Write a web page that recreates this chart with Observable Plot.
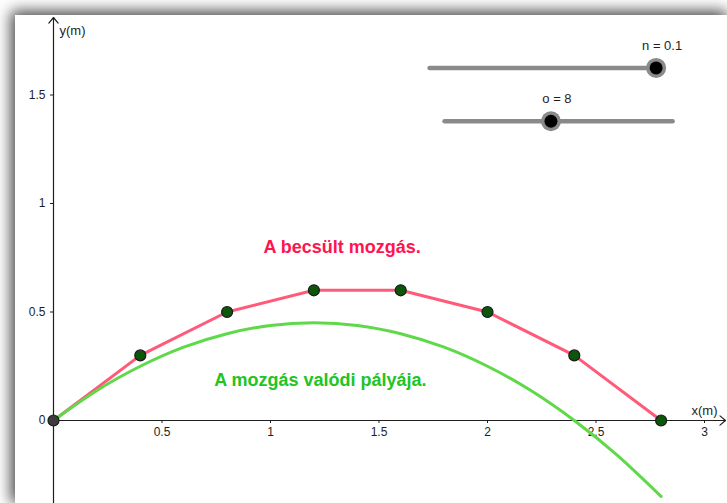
<!DOCTYPE html>
<html>
<head>
<meta charset="utf-8">
<script src="https://cdn.jsdelivr.net/npm/d3@7"></script>
<script src="https://cdn.jsdelivr.net/npm/@observablehq/plot@0.6"></script>
<style>
  html, body { margin: 0; padding: 0; background: #fff; }
  #window { position: relative; width: 727px; height: 503px; overflow: hidden; background: #fff; }
  #view { position: absolute; left: 15px; top: 15px; box-shadow: -2px -2px 14px 2px rgba(0,0,0,0.72); background: #fff; }
  #view svg { display: block; }
</style>
</head>
<body>
<div id="window"><div id="view"></div></div>
<script>
// Estimated motion: positions at each time step (m)
const stepX = [0, 0.4, 0.8, 1.2, 1.6, 2, 2.4, 2.8];
const stepY = [0, 0.3, 0.5, 0.6, 0.6, 0.5, 0.3, 0];

// Real trajectory of the motion (m)
const pathX = [0, 0.2, 0.4, 0.6, 0.8, 1.0, 1.2, 1.4, 1.6, 1.8, 2.0, 2.2, 2.4, 2.6, 2.8];
const pathY = [0, 0.138, 0.25, 0.338, 0.40, 0.438, 0.45, 0.438, 0.40, 0.338, 0.25, 0.138, 0, -0.162, -0.35];

// Axis ticks and names
const xTicks = [0.5, 1, 1.5, 2, 2.5, 3];
const yTicks = [0.5, 1, 1.5];
const xName = "x(m)";
const yName = "y(m)";

// Captions
const estimatedCaption = "A becsült mozgás.";
const realCaption = "A mozgás valódi pályája.";

// Sliders: name, range and current value
const sliderNames = ["n", "o"];
const sliderMin = [0, 1];
const sliderMax = [0.1, 16];
const sliderValues = [0.1, 8];

// View geometry (pixels): one metre = 217 px on both axes
const W = 712, H = 488, unit = 217, ox = 38, oy = 405;
const xDomain = [-ox / unit, (W - ox) / unit];
const yDomain = [-(H - oy) / unit, oy / unit];
const xTip = (W - 2 - ox) / unit;
const yTip = (oy - 2) / unit;

// Slider tracks placed in axis units (top right of the view)
const tracks = [
  {x1: 1.733, x2: 2.777, y: 1.625},
  {x1: 1.802, x2: 2.853, y: 1.379}
];
const sliders = sliderNames.map((name, i) => {
  const t = tracks[i];
  const f = (sliderValues[i] - sliderMin[i]) / (sliderMax[i] - sliderMin[i]);
  return {
    name, value: sliderValues[i],
    x1: t.x1, x2: t.x2, y: t.y,
    knob: t.x1 + f * (t.x2 - t.x1)
  };
});

const stepIdx = d3.range(stepX.length);
const pathIdx = d3.range(pathX.length);
const font = "'Liberation Sans', Arial, sans-serif";
const ink = "#1e1e1e";

const chart = Plot.plot({
  width: W,
  height: H,
  margin: 0,
  x: {domain: xDomain, range: [0, W], axis: null},
  y: {domain: yDomain, range: [H, 0], axis: null},
  style: {background: "#fff", fontFamily: font, fontSize: "12px", overflow: "visible"},
  marks: [
    // axes with arrow heads
    Plot.arrow([0], {x1: 0, x2: xTip, y1: 0, y2: 0, stroke: ink, strokeWidth: 1.2, headLength: 9, headAngle: 80}),
    Plot.arrow([0], {x1: 0, x2: 0, y1: yDomain[0], y2: yTip, stroke: ink, strokeWidth: 1.2, headLength: 9, headAngle: 80}),
    Plot.ruleX(xTicks, {x: d => d, y1: 0, y2: 0, insetBottom: -3, stroke: ink}),
    Plot.text(xTicks, {x: d => d, y: 0, dy: 12, text: d => String(d), fill: ink, fontSize: 12}),
    Plot.ruleY(yTicks, {y: d => d, x1: 0, x2: 0, insetLeft: -3, stroke: ink}),
    Plot.text([0, ...yTicks], {x: 0, y: d => d, dx: -8, textAnchor: "end", text: d => String(d), fill: ink, fontSize: 12}),
    Plot.text([xName], {x: xTip, y: 0, dx: -8, dy: -10, textAnchor: "end", text: d => d, fill: ink, fontSize: 13}),
    Plot.text([yName], {x: 0, y: yTip, dx: 6, dy: 13, textAnchor: "start", text: d => d, fill: ink, fontSize: 13}),

    // estimated motion (polyline) and real trajectory (curve)
    Plot.line(stepIdx, {x: i => stepX[i], y: i => stepY[i], stroke: "#ff5a78", strokeWidth: 3}),
    Plot.line(pathIdx, {x: i => pathX[i], y: i => pathY[i], curve: "natural", stroke: "#5fd94a", strokeWidth: 3}),
    Plot.dot(stepIdx, {x: i => stepX[i], y: i => stepY[i], r: 5.5, fill: i => i === 0 ? "#3c3c3c" : "#0b560b", stroke: "#1a1a1a", strokeWidth: 1.2}),

    // captions
    Plot.text([estimatedCaption], {x: 1.33, y: 0.80, text: d => d, fill: "#ff1450", fontSize: 18, fontWeight: "bold"}),
    Plot.text([realCaption], {x: 1.23, y: 0.185, text: d => d, fill: "#22c422", fontSize: 18, fontWeight: "bold"}),

    // sliders
    Plot.link(sliders, {x1: "x1", x2: "x2", y1: "y", y2: "y", stroke: "#8a8a8a", strokeWidth: 4.5, strokeLinecap: "round"}),
    Plot.dot(sliders, {x: "knob", y: "y", r: 10, fill: "#8a8a8a"}),
    Plot.dot(sliders, {x: "knob", y: "y", r: 6.5, fill: "#000"}),
    Plot.text(sliders, {x: "knob", y: "y", dx: 6, dy: -22, text: d => `${d.name} = ${d.value}`, fill: ink, fontSize: 13})
  ]
});

document.getElementById("view").appendChild(chart);
</script>
</body>
</html>
